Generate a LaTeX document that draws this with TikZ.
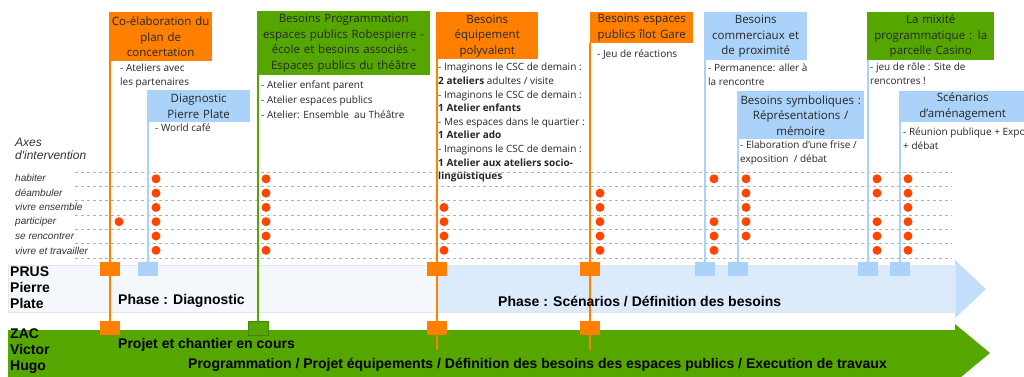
\documentclass[tikz,border=0pt]{standalone}
\usepackage{fontspec}
\setmainfont{Open Sans}
\newfontfamily\arialf{Liberation Sans}[ItalicFont=* Italic, BoldFont=* Bold, BoldItalicFont=* Bold Italic]
\definecolor{orng}{HTML}{FF8000}
\definecolor{grn}{HTML}{55A700}
\definecolor{blu}{HTML}{ABD2F8}
\definecolor{dotc}{HTML}{FF4500}
\definecolor{bandA}{HTML}{F4F7FC}
\definecolor{bandB}{HTML}{DCEBFB}
\definecolor{bandC}{HTML}{C2DEFA}
\tikzset{
  hdr/.style={fill=#1, anchor=north west, align=center, inner sep=0pt, text=black!85,
    font=\fontsize{11.5}{15.5}\selectfont},
  bdy/.style={anchor=north west, align=left, inner sep=0pt, text=black!85,
    font=\fontsize{10}{14}\selectfont},
  sq/.style={fill=#1, minimum width=20, minimum height=14, inner sep=0pt},
  vl/.style={draw=#1, line width=2pt},
  band/.style={anchor=west, inner sep=0pt, font=\arialf\bfseries\fontsize{14}{16}\selectfont},
  axe/.style={anchor=west, inner sep=0pt, text=black!80, font=\arialf\itshape\fontsize{10}{12}\selectfont}
}
\begin{document}
\begin{tikzpicture}[x=1pt,y=-1pt]
\useasboundingbox (0,0) rectangle (1024,376);
\fill[white] (0,0) rectangle (1024,376);
\fill[bandA] (8,265) rectangle (437,312);
\fill[bandB] (437,265) rectangle (955,312);
\fill[bandC] (955,260) -- (986,289) -- (955,318) -- cycle;
\draw[black!10] (8,265) rectangle (955,312);
\fill[grn] (8,330) rectangle (955,380);
\fill[grn] (955,324) -- (990,353) -- (955,382) -- cycle;
\foreach \y in {172,186,200,215,229,243,258}
  \draw[black!30, dash pattern=on 3pt off 3pt, line width=0.6pt] (75,\y) -- (952,\y);
\foreach \x/\rs in {119/{4},156/{1,2,3,4,5,6},266/{1,2,3,4,5,6},444/{3,4,5,6},600/{2,3,4,5,6},714/{1,4,5,6},746/{1,2,3,4,5},877/{1,2,4,5,6},908/{1,2,3,4,5,6}}
  \foreach \r in \rs
    \fill[dotc] (\x,164.5+14.3*\r) circle (4.5pt);
\node[hdr=orng, minimum width=103, minimum height=49, text width=103] (h1) at (109,12) {Co-élaboration du\\plan de\\concertation};
\node[hdr=blu, minimum width=103, minimum height=32, text width=103] (h2) at (147,90) {Diagnostic\\Pierre Plate};
\node[hdr=grn, minimum width=173, minimum height=64, text width=173] (h3) at (257,11) {Besoins Programmation\\espaces publics Robespierre -\\école et besoins associés -\\Espaces publics du théâtre};
\node[hdr=orng, minimum width=102, minimum height=47, text width=102] (h4) at (436,12) {Besoins\\équipement\\polyvalent};
\node[hdr=orng, minimum width=103, minimum height=31, text width=103] (h5) at (590,12) {Besoins espaces\\publics îlot Gare};
\node[hdr=blu, minimum width=103, minimum height=48, text width=103] (h6) at (704,12) {Besoins\\commerciaux et\\de proximité};
\node[hdr=blu, minimum width=127, minimum height=48, text width=127] (h7) at (737,91) {Besoins symboliques :\\Réprésentations /\\mémoire};
\node[hdr=grn, minimum width=127, minimum height=48, text width=127] (h8) at (867,12) {La mixité\\programmatique : la\\parcelle Casino};
\node[hdr=blu, minimum width=127, minimum height=31, text width=127] (h9) at (899,91) {Scénarios\\d'aménagement};
\node[sq=orng] (p1) at (110,269) {};
\node[sq=orng] (z1) at (110,328) {};
\node[sq=blu] (p2) at (148,269) {};
\node[sq=grn, draw=grn!80!black, line width=0.4pt] (z3) at (258,328) {};
\node[sq=orng] (p4) at (437,269) {};
\node[sq=orng] (z4) at (437,328) {};
\coordinate (e4) at (437,350);
\node[sq=orng] (p5) at (590,269) {};
\node[sq=orng] (z5) at (590,328) {};
\coordinate (e5) at (590,350);
\node[sq=blu] (p6) at (705,269) {};
\node[sq=blu] (p7) at (738,269) {};
\node[sq=blu] (p8) at (868,269) {};
\node[sq=blu] (p9) at (900,269) {};
\draw[vl=orng] (h1.south west -| z1) -- (z1.center);
\draw[vl=blu] (h2.south west -| p2) -- (p2.north);
\draw[vl=grn] (h3.south west -| z3) -- (z3.north);
\draw[vl=orng] (h4.south west -| e4) -- (e4);
\draw[vl=orng] (h5.south west -| e5) -- (e5);
\draw[vl=blu] (h6.south west -| p6) -- (p6.north);
\draw[vl=blu] (h7.south west -| p7) -- (p7.north);
\draw[vl=blu] (h8.south west -| p8) -- (p8.north);
\draw[vl=blu] (h9.south west -| p9) -- (p9.north);
\node[bdy] (b1) at (120,64) {- Ateliers avec\\les partenaires};
\node[bdy] (b2) at (155,124) {- World café};
\node[bdy, font=\fontsize{10}{15}\selectfont] (b3) at (261,81) {- Atelier enfant parent\\- Atelier espaces publics\\- Atelier: Ensemble\ \ au Théâtre};
\node[bdy, font=\fontsize{10}{13.6}\selectfont] (b4) at (438,63) {- Imaginons le CSC de demain :\\\textbf{2 ateliers} adultes / visite\\- Imaginons le CSC de demain :\\\textbf{1 Atelier enfants}\\- Mes espaces dans le quartier :\\\textbf{1 Atelier ado}\\- Imaginons le CSC de demain :\\\textbf{1 Atelier aux ateliers socio-}\\\textbf{lingüistiques}};
\node[bdy] (b5) at (597,50) {- Jeu de réactions};
\node[bdy] (b6) at (708,64) {- Permanence: aller à\\la rencontre};
\node[bdy] (b7) at (740,141) {- Elaboration d'une frise /\\exposition\ \ / débat};
\node[bdy] (b8) at (870,63) {- jeu de rôle : Site de\\rencontres !};
\node[bdy] (b9) at (903,128) {- Réunion publique + Expo\\+ débat};
\node[axe, anchor=north west, align=left, font=\arialf\itshape\fontsize{12}{13}\selectfont] (ax) at (15,138) {Axes\\d'intervention};
\foreach \t/\y [count=\i] in {habiter/178,déambuler/193,vivre ensemble/207,participer/222,se rencontrer/236,vivre et travailler/251}
  \node[axe] (a\i) at (15,\y) {\t};
\node[band, anchor=north west, align=left] (prus) at (10,267) {PRUS\\Pierre\\Plate};
\node[band] (ph1) at (118,301) {Phase : Diagnostic};
\node[band] (ph2) at (498,301) {Phase : Scénarios / Définition des besoins};
\node[band, anchor=north west, align=left] (zac) at (10,329) {ZAC\\Victor\\Hugo};
\node[band] (zc1) at (118,345) {Projet et chantier en cours};
\node[band] (zc2) at (188,365) {Programmation / Projet équipements / Définition des besoins des espaces publics / Execution de travaux};
\end{tikzpicture}
\end{document}
